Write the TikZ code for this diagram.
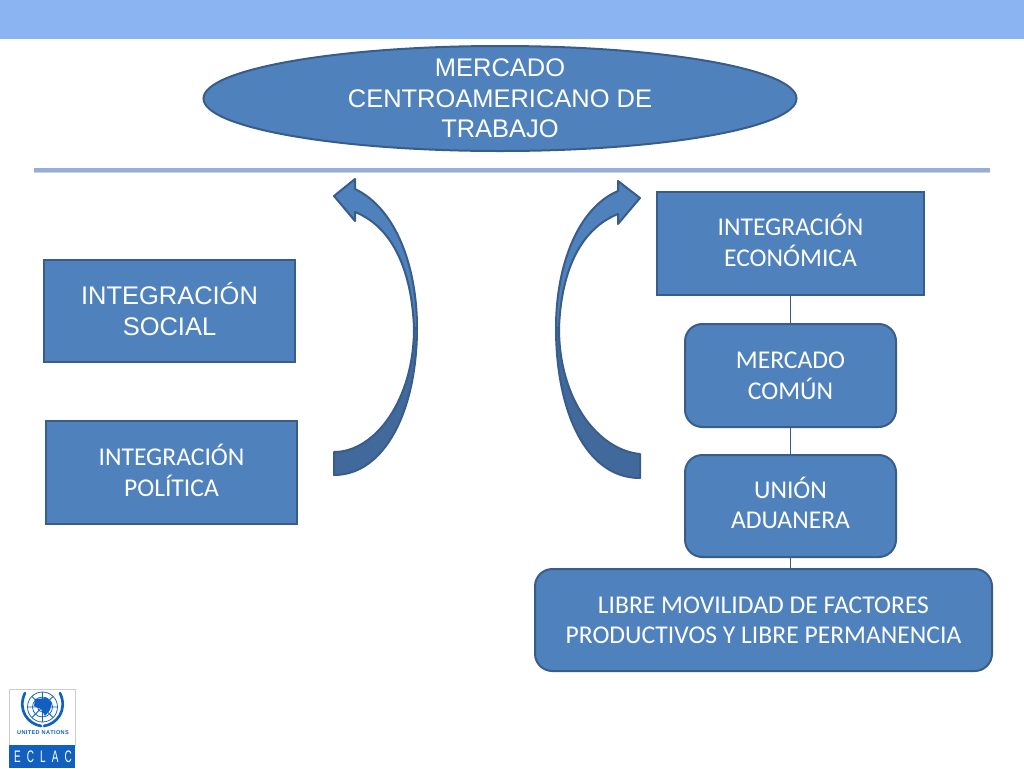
\documentclass[tikz,border=0pt]{standalone}
\usepackage{fontspec}
\setmainfont{Carlito}
\newfontfamily\arialf{Liberation Sans}
\usetikzlibrary{shapes.geometric}
\definecolor{band}{HTML}{8AB4F2}
\definecolor{rulec}{HTML}{93AEDD}
\definecolor{fillb}{HTML}{4F81BD}
\definecolor{edgeb}{HTML}{385D8A}
\definecolor{darkb}{HTML}{41699B}
\definecolor{unblue}{HTML}{1160C0}
\newcommand{\liftedtxt}[2]{\raisebox{#1}[0pt][0pt]{\begin{tabular}{@{}c@{}}#2\end{tabular}}}
\tikzset{
  x=0.75pt,y=-0.75pt,
  boxbase/.style={draw=edgeb,line width=1.5pt,fill=fillb,text=white,align=center,inner sep=0pt},
  sqbox/.style={boxbase,rectangle},
  rdbox/.style={boxbase,rectangle,rounded corners=13pt},
  oval/.style={boxbase,ellipse,inner ysep=-3pt},
  arialtxt/.style={font=\arialf\fontsize{19.1}{22.9}\selectfont},
  caltxt/.style={font=\fontsize{19.2}{23}\selectfont},
  linkline/.style={draw=edgeb,line width=0.6pt},
  arrowedge/.style={draw=edgeb,line width=1.5pt,line join=round},
  logoline/.style={draw=unblue,line width=0.55pt},
}
\begin{document}
\begin{tikzpicture}
\useasboundingbox (0,0) rectangle (1024,768);
\fill[white] (0,0) rectangle (1024,768);
\fill[band] (0,0) rectangle (1024,38.5);
\fill[black!18] (34,171) rectangle (990,173);
\fill[rulec] (34,168) rectangle (990,172);

\node[sqbox,caltxt,minimum width=200.25pt,minimum height=77.25pt] (econ) at (790.5,243.5) {\liftedtxt{-6.3pt}{INTEGRACIÓN\\ECONÓMICA}};
\node[rdbox,caltxt,minimum width=158.25pt,minimum height=77.25pt] (merc) at (790.5,375.5) {MERCADO\\COMÚN};
\node[rdbox,caltxt,minimum width=158.25pt,minimum height=76.5pt] (union) at (790.5,506) {\liftedtxt{-6.3pt}{UNIÓN\\ADUANERA}};
\node[rdbox,caltxt,minimum width=342.75pt,minimum height=76.5pt] (libre) at (763.5,620) {\liftedtxt{-7pt}{LIBRE MOVILIDAD DE FACTORES\\PRODUCTIVOS Y LIBRE PERMANENCIA}};
\draw[linkline] (econ.south) -- (merc.north);
\draw[linkline] (merc.south) -- (union.north);
\draw[linkline] (union.south) -- (union.south |- libre.north);

\node[oval,arialtxt,minimum width=444.75pt,minimum height=78.75pt] (top) at (500,98.5) {MERCADO\\CENTROAMERICANO DE\\TRABAJO};
\node[sqbox,arialtxt,minimum width=188.25pt,minimum height=76.5pt] (social) at (169.5,311) {\liftedtxt{-7pt}{INTEGRACIÓN\\SOCIAL}};
\node[sqbox,caltxt,minimum width=188.25pt,minimum height=77.25pt] (poli) at (171.5,472.5) {\liftedtxt{-7pt}{INTEGRACIÓN\\POLÍTICA}};

% left curved arrow
\draw[arrowedge,fill=darkb] (334,452) .. controls (375,452) and (414,400) .. (414,328)
  -- (417,328) .. controls (417,410) and (385,475) .. (334,475) -- cycle;
\draw[arrowedge,fill=fillb] (334,196) -- (355,179) -- (355,189)
  .. controls (395,208) and (417,265) .. (417,328)
  -- (414,328) .. controls (412,275) and (395,228) .. (355,212)
  -- (355,221) -- cycle;

% right curved arrow
\draw[arrowedge,fill=darkb] (640,454) .. controls (598,450) and (559,400) .. (559,328)
  -- (556,328) .. controls (556,410) and (585,478) .. (640,478) -- cycle;
\draw[arrowedge,fill=fillb] (640,198) -- (618,181) -- (618,191)
  .. controls (578,208) and (556,265) .. (556,328)
  -- (559,328) .. controls (561,275) and (578,230) .. (618,214)
  -- (618,224) -- cycle;

% logo
\draw[black!20,fill=white,line width=0.4pt] (9,689) rectangle (75,745);
\fill[unblue] (9,745) rectangle (75,768);
\draw[logoline] (42.5,707) circle (15);
\draw[logoline] (42.5,707) circle (10);
\draw[logoline] (42.5,707) circle (5);
\draw[logoline] (27.5,707) -- (57.5,707) (42.5,692) -- (42.5,722) (32,696.5) -- (53,717.5) (53,696.5) -- (32,717.5);
\fill[unblue] (35,699) -- (47,698) -- (52,703) -- (50,710) -- (45,716) -- (41,709) -- (34,706) -- cycle;
\draw[unblue,line width=2pt,line cap=round] (25,693) .. controls (17,710) and (28,724) .. (41,726);
\draw[unblue,line width=2pt,line cap=round] (60,693) .. controls (68,710) and (57,724) .. (44,726);
\node[text=unblue,font=\arialf\bfseries\fontsize{4.2}{5}\selectfont,inner sep=0pt] (untxt) at (43,732.5) {U\hspace{.25pt}N\hspace{.25pt}I\hspace{.25pt}T\hspace{.25pt}E\hspace{.25pt}D\hspace{1.5pt}N\hspace{.25pt}A\hspace{.25pt}T\hspace{.25pt}I\hspace{.25pt}O\hspace{.25pt}N\hspace{.25pt}S};
\node[text=white,font=\arialf\fontsize{12.5}{14}\selectfont,inner sep=0pt] (eclac) at (43,757) {\scalebox{0.6}[1]{E}\hspace{4.6pt}\scalebox{0.6}[1]{C}\hspace{4.6pt}\scalebox{0.6}[1]{L}\hspace{4.6pt}\scalebox{0.6}[1]{A}\hspace{4.6pt}\scalebox{0.6}[1]{C}};
\end{tikzpicture}
\end{document}
